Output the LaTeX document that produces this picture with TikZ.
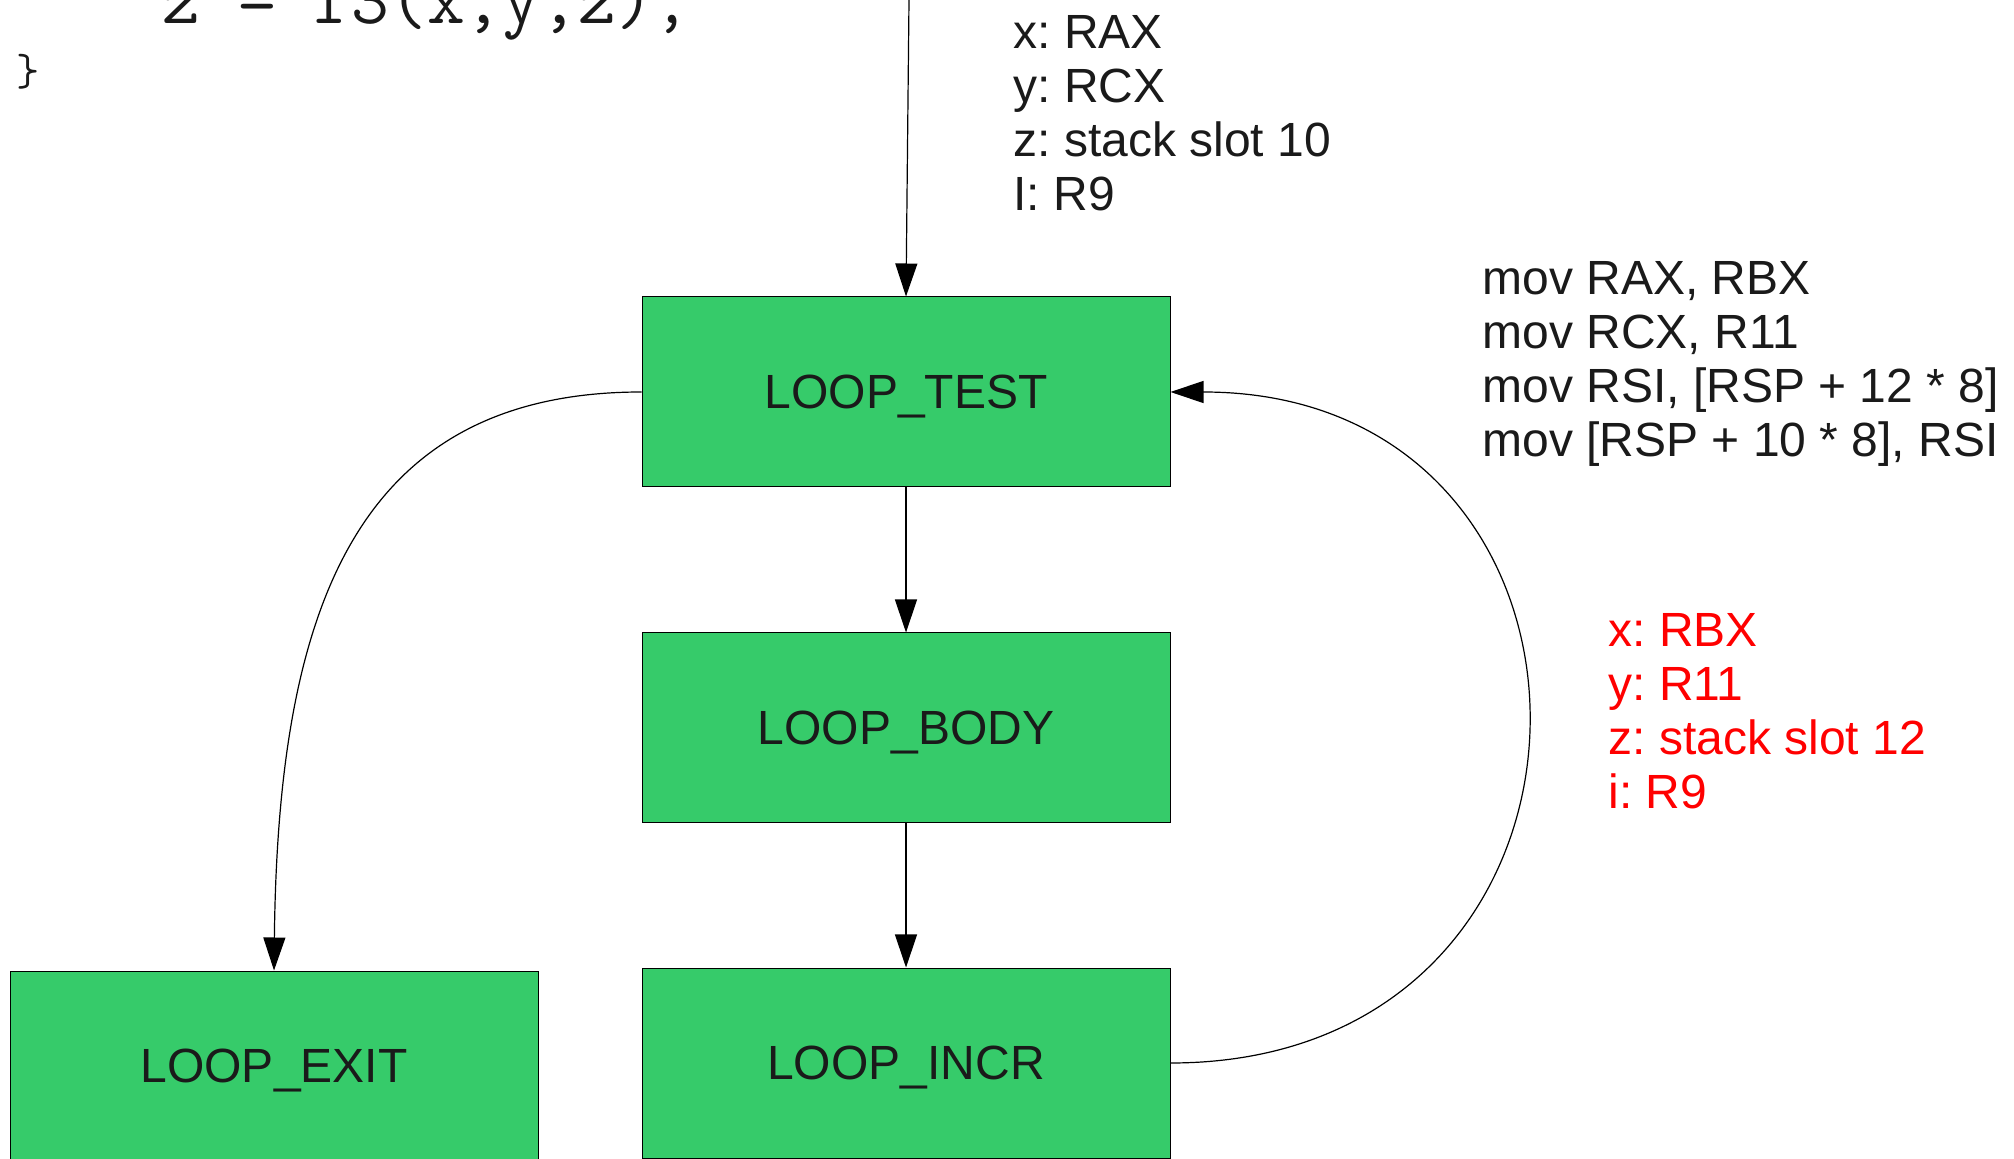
\documentclass[tikz,border=0pt]{standalone}
\usepackage{fontspec}
\setmainfont{Liberation Sans}
\usetikzlibrary{arrows.meta}

\definecolor{blockgreen}{RGB}{54,203,106}
\definecolor{inkgray}{RGB}{26,26,26}
\definecolor{moved}{RGB}{255,0,0}

\tikzset{
  block/.style={draw=black, line width=0.5pt, fill=blockgreen,
    minimum width=264pt, minimum height=95pt, inner sep=0pt,
    text depth=0pt,
    font=\fontsize{24}{27}\selectfont, text=inkgray},
  flow/.style={line width=0.6pt, -{Triangle[length=16.5pt,width=11pt]}},
  regnote/.style={anchor=base west, inner sep=0pt,
    font=\fontsize{24}{27}\selectfont\frenchspacing, text=inkgray},
  codeline/.style={anchor=base west, inner sep=0pt,
    font=\ttfamily\fontsize{36.7}{40}\selectfont, text=inkgray},
}

\begin{document}
\begin{tikzpicture}[x=0.5pt,y=-0.5pt]
  \useasboundingbox (0,0) rectangle (2014,1159);
  \clip (0,0) rectangle (2014,1159);

  % source fragment at the top left
  \node[codeline] (call) at (11,24) {\phantom{xxxx}z = f3(x,y,z);};
  \node[inner sep=0pt, font=\ttfamily\fontsize{22.5}{24}\selectfont,
        text=inkgray] (close) at (28,72) {\}};

  % basic blocks
  \node[block] (test) at (906,392) {LOOP\_TEST};
  \node[block] (body) at (906,728) {LOOP\_BODY};
  \node[block] (incr) at (906,1063) {LOOP\_INCR};
  \node[block] (exit) at (274,1066) {LOOP\_EXIT};

  % register assignments
  \node[regnote] (entrymap) at (1013,49)
    {\begin{tabular}[t]{@{}l@{}}x: RAX\\y: RCX\\z: stack slot 10\\I: R9\end{tabular}};
  \node[regnote] (moves) at (1482,295)
    {\begin{tabular}[t]{@{}l@{}}mov RAX, RBX\\mov RCX, R11\\mov RSI, [RSP + 12 * 8]\\mov [RSP + 10 * 8], RSI\end{tabular}};
  \node[regnote, text=moved] (backmap) at (1608,647)
    {\begin{tabular}[t]{@{}l@{}}x: RBX\\y: R11\\z: stack slot 12\\i: R9\end{tabular}};

  % control flow
  \coordinate (entry) at (909,0);
  \draw[flow] (entry) -- (test.north);
  \draw[flow] (test.south) -- (body.north);
  \draw[flow] (body.south) -- (incr.north);
  \draw[flow] (test.west) .. controls +(-292,0) and +(4,-351) .. (exit.north);
  \draw[flow] (incr.east) .. controls +(474,0) and +(474,0) .. (test.east);
\end{tikzpicture}
\end{document}
